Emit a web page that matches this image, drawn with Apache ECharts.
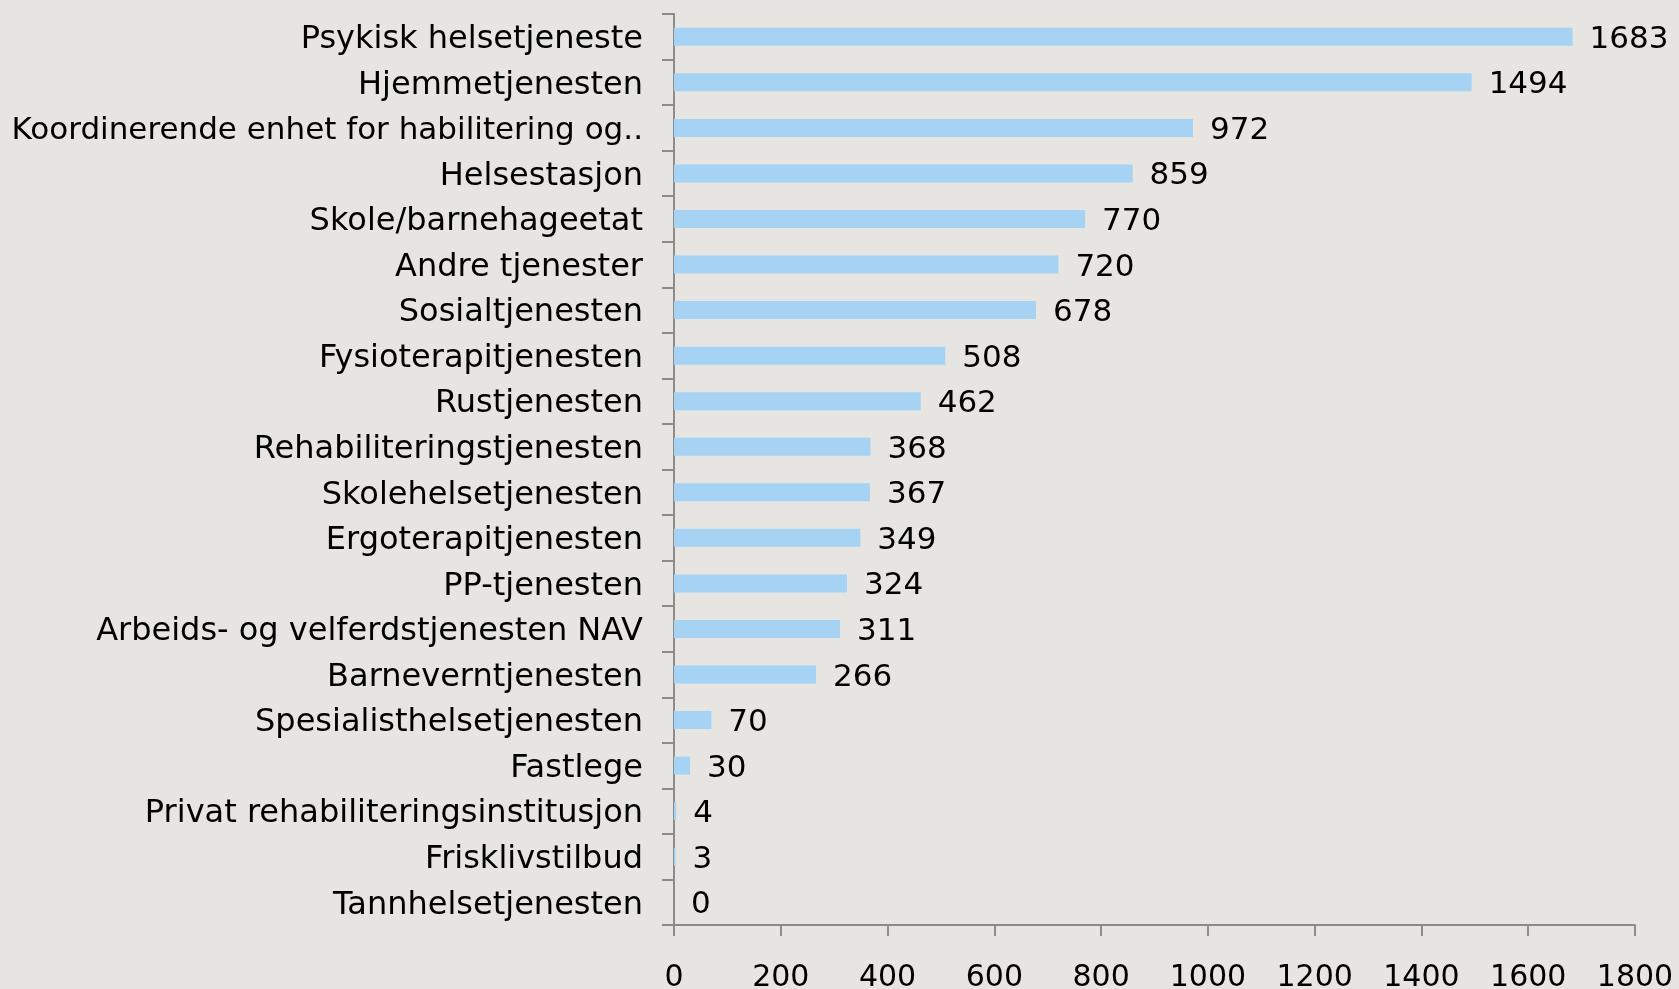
<!DOCTYPE html>
<html>
<head>
<meta charset="utf-8">
<script src="https://cdn.jsdelivr.net/npm/echarts@6/dist/echarts.min.js"></script>
<style>
  html, body { margin: 0; padding: 0; background: #e6e5e1; }
  #chart { width: 1679px; height: 989px; }
</style>
</head>
<body>
<div id="chart"></div>
<script>
var categories = [
  'Psykisk helsetjeneste',
  'Hjemmetjenesten',
  'Koordinerende enhet for habilitering og..',
  'Helsestasjon',
  'Skole/barnehageetat',
  'Andre tjenester',
  'Sosialtjenesten',
  'Fysioterapitjenesten',
  'Rustjenesten',
  'Rehabiliteringstjenesten',
  'Skolehelsetjenesten',
  'Ergoterapitjenesten',
  'PP-tjenesten',
  'Arbeids- og velferdstjenesten NAV',
  'Barneverntjenesten',
  'Spesialisthelsetjenesten',
  'Fastlege',
  'Privat rehabiliteringsinstitusjon',
  'Frisklivstilbud',
  'Tannhelsetjenesten'
];
var values = [1683, 1494, 972, 859, 770, 720, 678, 508, 462, 368, 367, 349, 324, 311, 266, 70, 30, 4, 3, 0];

var fontFam = '"DejaVu Sans", Verdana, sans-serif';
var axisGrey = '#8c8c8c';

var chart = echarts.init(document.getElementById('chart'));
var option = {
  backgroundColor: '#e6e5e1',
  animation: false,
  grid: {
    left: 674,
    right: 44,
    top: 14,
    bottom: 64,
    containLabel: false,
    outerBoundsMode: 'none'
  },
  xAxis: {
    type: 'value',
    min: 0,
    max: 1800,
    interval: 200,
    splitLine: { show: false },
    axisLine: { show: true, lineStyle: { color: axisGrey, width: 2 } },
    axisTick: { show: true, length: 11, lineStyle: { color: axisGrey, width: 2 } },
    axisLabel: {
      color: '#000', fontSize: 30, fontFamily: fontFam, margin: 38,
      formatter: function (v) { return String(v); }
    }
  },
  yAxis: {
    type: 'category',
    inverse: true,
    data: categories,
    axisLine: { show: true, lineStyle: { color: axisGrey, width: 2 } },
    axisTick: { show: true, length: 12, lineStyle: { color: axisGrey, width: 2 } },
    axisLabel: {
      color: '#000', fontSize: 32, fontFamily: fontFam, margin: 31,
      // long truncated label a touch smaller so it fits the left edge
      formatter: function (v) {
        return (v.length > 35 ? '{b|' : '{a|') + v + '}';
      },
      rich: {
        a: { fontSize: 32, fontFamily: fontFam, color: '#000', padding: [6, 0, 0, 0] },
        b: { fontSize: 31, fontFamily: fontFam, color: '#000', padding: [6, 0, 0, 0] }
      }
    }
  },
  series: [{
    type: 'bar',
    data: values,
    barWidth: 18,
    itemStyle: { color: '#a6d2f3' },
    label: {
      show: true,
      position: 'right',
      distance: 17,
      offset: [0, 3],
      color: '#000',
      fontSize: 31,
      fontFamily: fontFam
    }
  }]
};
chart.setOption(option);
</script>
</body>
</html>
